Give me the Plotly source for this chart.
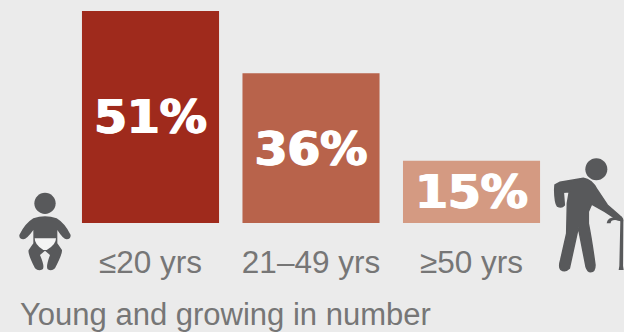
import re
import plotly.graph_objects as go

# Age distribution
age_groups = ["≤20 yrs", "21–49 yrs", "≥50 yrs"]
shares = [51, 36, 15]
bar_colors = ["#9f2a1c", "#b8634b", "#d49a82"]
caption = "Young and growing in number"

WIDTH, HEIGHT = 624, 332
BASELINE = 223
BG = "#ebebeb"
GREY = "#58595b"
TEXT = "#767676"


def icon_path(path, ox, oy, scale=1 / 3):
    """Convert an icon outline drawn in its own units to paper coordinates."""
    parts = re.findall(r"[MLQCZ]|-?\d+\.?\d*", path)
    out, is_x = [], True
    for p in parts:
        if p.isalpha():
            out.append(p)
            is_x = True
        elif is_x:
            out.append(f"{(ox + float(p) * scale) / WIDTH:.5f}")
            is_x = False
        else:
            out.append(f"{(BASELINE - (oy + float(p) * scale)) / BASELINE:.5f}")
            is_x = True
    return " ".join(out)


def circle(cx, cy, r):
    k = 0.5523 * r
    return (f"M {cx - r} {cy} C {cx - r} {cy - k} {cx - k} {cy - r} {cx} {cy - r} "
            f"C {cx + k} {cy - r} {cx + r} {cy - k} {cx + r} {cy} "
            f"C {cx + r} {cy + k} {cx + k} {cy + r} {cx} {cy + r} "
            f"C {cx - k} {cy + r} {cx - r} {cy + k} {cx - r} {cy} Z")


baby_body = ("M 100 145 Q 135 133 170 145 Q 195 160 212 195 Q 212 208 200 208 Q 190 208 172 180 "
             "L 172 220 L 186 240 Q 188 250 165 295 Q 155 305 143 298 Q 137 290 150 255 L 135 242 "
             "L 120 255 Q 135 290 128 298 Q 115 305 105 295 Q 82 250 86 240 L 100 220 L 100 180 "
             "Q 80 208 70 208 Q 57 208 58 195 Q 75 160 100 145 Z")
diaper = "M 104 205 L 168 205 Q 168 225 140 240 L 130 240 Q 104 225 104 205 Z"
elder_body = ("M 105 135 L 120 127 L 190 115 Q 215 118 232 150 L 262 195 L 300 228 Q 310 235 303 242 "
              "L 290 238 L 255 215 L 215 192 L 205 215 L 205 250 Q 215 300 225 375 Q 225 395 212 395 "
              "Q 203 395 198 380 L 175 262 L 148 385 Q 135 398 122 388 Q 116 380 122 360 L 140 280 "
              "L 142 190 L 148 155 L 130 157 L 133 195 Q 125 205 112 198 Q 105 190 104 150 Z")
cane = ("M 260 250 Q 262 232 285 232 L 305 232 Q 312 235 310 245 L 309 378 L 311 390 L 296 390 "
        "L 298 378 L 301 242 L 285 240 Q 272 240 272 250 Z")

icons = [
    (circle(135, 100, 32), 0, 170, GREY, 0),
    (baby_body, 0, 170, GREY, 0),
    (diaper, 0, 170, "#f4f4f4", 0),
    (circle(229, 88, 33), 520, 140, GREY, 0),
    (elder_body, 520, 140, GREY, 1.5),
    (cane, 520, 140, GREY, 0),
]

fig = go.Figure(
    go.Bar(
        x=age_groups,
        y=shares,
        marker=dict(color=bar_colors, line=dict(width=0)),
        text=[f"{v}%" for v in shares],
        textposition="inside",
        insidetextanchor="middle",
        textangle=0,
        constraintext="none",
        insidetextfont=dict(family="DejaVu Sans", size=47, color="white", weight="bold",
                            shadow="1px 0 0 white, -1px 0 0 white"),
        hoverinfo="skip",
        showlegend=False,
    )
)

for path, ox, oy, color, outline in icons:
    fig.add_shape(type="path", path=icon_path(path, ox, oy), xref="paper", yref="paper",
                  fillcolor=color, line=dict(width=outline, color=color), layer="above")

fig.add_annotation(text=caption, xref="paper", yref="paper", x=18 / WIDTH,
                   y=(BASELINE - 314) / BASELINE, xanchor="left", yanchor="middle",
                   showarrow=False,
                   font=dict(family="Liberation Sans", size=31, color=TEXT))

fig.update_layout(
    width=WIDTH,
    height=HEIGHT,
    margin=dict(l=0, r=0, t=0, b=HEIGHT - BASELINE, pad=0),
    paper_bgcolor=BG,
    plot_bgcolor=BG,
    bargap=0.146,
    xaxis=dict(range=[-0.9377, 2.950], showgrid=False, zeroline=False, showline=False,
               ticks="", ticklabelstandoff=17, automargin=False,
               tickfont=dict(family="Liberation Sans", size=31.5, color=TEXT)),
    yaxis=dict(range=[0, 53.64], visible=False),
)

fig.write_html("out.html", config=dict(displayModeBar=False))
